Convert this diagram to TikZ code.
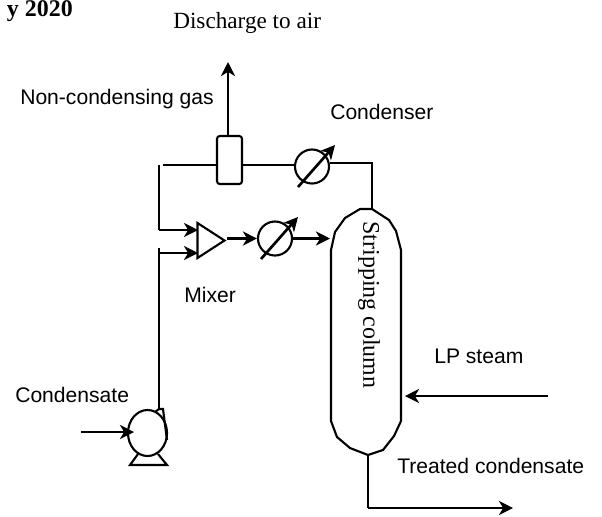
\documentclass[tikz,border=0pt]{standalone}
\usepackage{fontspec}
\setmainfont{Liberation Serif}
\setsansfont{Liberation Sans}
\usetikzlibrary{arrows.meta,positioning,calc,shapes.geometric}

\begin{document}
\begin{tikzpicture}[
  x=0.025cm, y=-0.025cm,
  vessel/.style={draw, line width=1.5pt, inner sep=0pt},
  exchanger/.style={vessel, circle, minimum size=0.85cm},
  lbl/.style={inner sep=0pt, font=\sffamily\fontsize{15}{17}\selectfont},
  serif/.style={inner sep=0pt, font=\fontsize{16.5}{19}\selectfont},
  arrow/.style={-{Stealth[length=10pt,width=10pt,inset=3pt]}, line width=1.9pt},
  pipe/.style={line width=1.9pt},
  thinpipe/.style={line width=1.5pt},
]
  \useasboundingbox (0,0) rectangle (602,516);

  % Equipment
  \node[vessel, rounded corners=2pt, minimum width=0.625cm, minimum height=1.2cm] (sep) at (229.5,160) {};
  \node[exchanger] (cond) at (312,166.5) {};
  \node[vessel, isosceles triangle, isosceles triangle stretches, minimum width=0.875cm,
    minimum height=0.675cm] (mixer) at (207,240.5) {};
  \node[exchanger] (heater) at (275,238.5) {};
  \node[vessel, ellipse, minimum width=0.975cm, minimum height=1.15cm] (pump) at (147.5,433) {};

  % Column outline
  \coordinate (coltop) at (372,209);
  \coordinate (colbottom) at (368,455);
  \draw[thinpipe] (coltop) -- (360,209) -- (345,218) -- (335,232) -- (331,250) -- (331,421)
    -- (337,437) -- (350,448) -- (colbottom) -- (383,450) -- (394,436) -- (401,421)
    -- (401,250) -- (396,231) -- (389,220) -- (coltop);
  \node[serif, font=\fontsize{17}{19}\selectfont, rotate=-90] (col) at (369,305) {Stripping column};

  % Free ends
  \coordinate (vent) at (228,62);
  \coordinate (topleft) at (163,165);
  \coordinate (topleftb) at (159,165);
  \coordinate (in1) at (159,230);
  \coordinate (in1b) at (198,230);
  \coordinate (stub) at (159,248);
  \coordinate (in2) at (159,253);
  \coordinate (in2b) at (198,253);
  \coordinate (pumpout) at (159,409);
  \coordinate (feed) at (81,432);
  \coordinate (feedin) at (134,432);
  \coordinate (condout) at (372,163);
  \coordinate (steam) at (548,396);
  \coordinate (steamin) at (405,396);
  \coordinate (bottom) at (368,508);
  \coordinate (product) at (513,508);
  \coordinate (colin) at (330,238.5);

  % Top line
  \draw[arrow] (sep.north -| vent) -- (vent);
  \draw[thinpipe] (topleft) -- (topleft -| sep.west);
  \draw[thinpipe] (topleft -| sep.east) -- (topleft -| cond.west);
  \draw[thinpipe] (condout -| cond.east) -- (condout) -- (coltop);

  % Recycle into mixer
  \draw[pipe] (topleftb) -- (in1);
  \draw[arrow] (in1) -- (in1b);
  \draw[arrow] (in2) -- (in2b);
  \draw[pipe] (stub) -- (pumpout);
  \draw[arrow] (mixer.apex |- heater) -- (heater.west);
  \draw[arrow] (heater.east) -- (colin);

  % Exchanger arrows
  \draw[arrow] ([shift={(-14,20.5)}]cond.center) -- ([shift={(23,-21.5)}]cond.center);
  \draw[arrow] ([shift={(-14,20.5)}]heater.center) -- ([shift={(23,-21.5)}]heater.center);

  % Pump
  \draw[vessel] (155,412) -- (pumpout) -- (163,409) -- (167,440);
  \draw[arrow] (feed) -- (feedin);
  \draw[vessel] (138,454) -- (130,465) -- (167,465) -- (158,454);

  % Streams at the column
  \draw[arrow] (steam) -- (steamin);
  \draw[pipe] (colbottom) -- (bottom);
  \draw[arrow] (bottom) -- (product);

  % Labels
  \node[font=\bfseries\fontsize{17}{19}\selectfont, inner sep=0pt, anchor=east] (date) at (73,11.5) {y 2020};
  \node[serif, anchor=west] (discharge) at (173,23) {Discharge to air};
  \node[lbl, anchor=west] (nongas) at (20,99) {Non-condensing gas};
  \node[lbl, anchor=west] (condlabel) at (330,112) {Condenser};
  \node[lbl, anchor=west] (mixlabel) at (184,295) {Mixer};
  \node[lbl, anchor=west] (condensate) at (15,395) {Condensate};
  \node[lbl, anchor=west] (lpsteam) at (434,356) {LP steam};
  \node[lbl, anchor=west] (treated) at (397,466) {Treated condensate};
\end{tikzpicture}
\end{document}
